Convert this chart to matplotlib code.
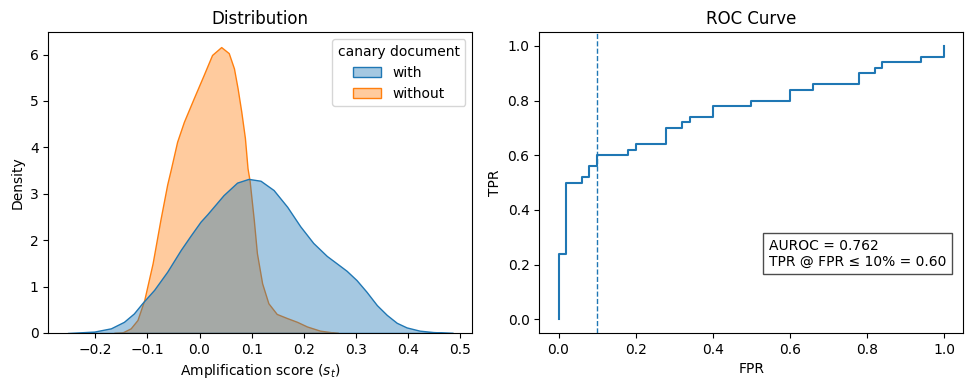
import matplotlib
matplotlib.use("Agg")
import matplotlib.pyplot as plt
from matplotlib.patches import Patch
from matplotlib.colors import to_rgba

# density curves (score, density)
with_x = [-0.253, -0.202, -0.170, -0.145, -0.126, -0.110, -0.087, -0.062, -0.036, -0.017,
          0.002, 0.015, 0.046, 0.072, 0.094, 0.117, 0.142, 0.168, 0.193, 0.218,
          0.244, 0.269, 0.282, 0.301, 0.320, 0.340, 0.359, 0.378, 0.397, 0.422,
          0.448, 0.486]
with_y = [0.0, 0.03, 0.10, 0.24, 0.42, 0.64, 0.93, 1.32, 1.79, 2.10,
          2.40, 2.56, 2.97, 3.24, 3.32, 3.28, 3.08, 2.72, 2.30, 1.94,
          1.66, 1.45, 1.34, 1.14, 0.89, 0.60, 0.39, 0.22, 0.12, 0.05,
          0.02, 0.0]

without_x = [-0.164, -0.148, -0.132, -0.119, -0.106, -0.090, -0.075, -0.062, -0.055, -0.043,
             -0.030, -0.011, 0.008, 0.024, 0.0415, 0.056, 0.066, 0.073, 0.080, 0.087,
             0.092, 0.096, 0.104, 0.110, 0.120, 0.132, 0.148, 0.168, 0.187, 0.206,
             0.231, 0.257, 0.266]
without_y = [0.0, 0.01, 0.10, 0.28, 0.71, 1.50, 2.44, 3.20, 3.53, 4.12,
             4.55, 5.06, 5.56, 5.99, 6.16, 6.03, 5.70, 5.27, 4.77, 4.20,
             3.55, 3.28, 2.44, 1.72, 1.07, 0.64, 0.41, 0.32, 0.24, 0.14,
             0.05, 0.01, 0.0]

# ROC curve corner points
fpr = [0, 0, 0.02, 0.06, 0.08, 0.10, 0.18, 0.20, 0.28, 0.32, 0.34, 0.40,
       0.50, 0.60, 0.66, 0.78, 0.82, 0.84, 0.94, 1.0]
tpr = [0, 0.24, 0.50, 0.52, 0.56, 0.60, 0.62, 0.64, 0.70, 0.72, 0.74, 0.78,
       0.80, 0.84, 0.86, 0.90, 0.92, 0.94, 0.96, 1.0]
auroc = 0.762
tpr_at_10 = 0.60
fpr_threshold = 0.10

blue = "#1f77b4"
orange = "#ff7f0e"

fig = plt.figure(figsize=(9.72, 3.9), dpi=100)
ax1 = fig.add_axes([0.0497, 0.1462, 0.4362, 0.771])
ax2 = fig.add_axes([0.5548, 0.1462, 0.4362, 0.771])

# left: distributions (orange first so blue sits on top)
ax1.fill_between(without_x, without_y, facecolor=to_rgba(orange, 0.4),
                 edgecolor=orange, linewidth=1)
ax1.fill_between(with_x, with_y, facecolor=to_rgba(blue, 0.4),
                 edgecolor=blue, linewidth=1)
ax1.margins(x=0.05)
ax1.set_ylim(0, 6.17 * 1.05)
handles = [Patch(facecolor=to_rgba(blue, 0.4), edgecolor=blue, label="with"),
           Patch(facecolor=to_rgba(orange, 0.4), edgecolor=orange, label="without")]
ax1.legend(handles=handles, title="canary document", loc="upper right")
ax1.set_title("Distribution")
ax1.set_xlabel("Amplification score ($s_t$)")
ax1.set_ylabel("Density")

# right: ROC
ax2.plot(fpr, tpr, drawstyle="steps-post", color=blue, linewidth=1.5)
ax2.axvline(fpr_threshold, color=blue, linestyle="--", linewidth=1)
ax2.set_xlim(-0.05, 1.05)
ax2.set_ylim(-0.05, 1.05)
ax2.set_title("ROC Curve")
ax2.set_xlabel("FPR")
ax2.set_ylabel("TPR")
ax2.text(0.541, 0.213,
         f"AUROC = {auroc:.3f}\nTPR @ FPR \u2264 10% = {tpr_at_10:.2f}",
         transform=ax2.transAxes, ha="left", va="bottom",
         bbox=dict(facecolor="white", alpha=0.7))

fig.savefig("out.png", dpi=100)
